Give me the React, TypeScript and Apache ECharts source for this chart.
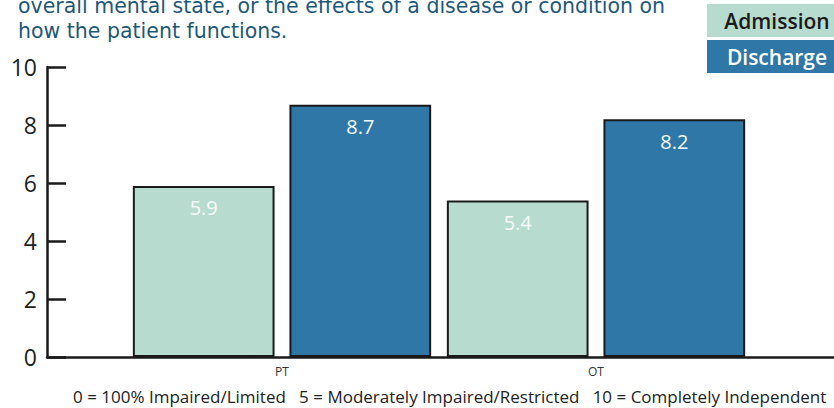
import React, { useEffect, useRef } from "react";
import * as echarts from "echarts";

const categories = ["PT", "OT"];
const seriesNames = ["Admission", "Discharge"];
const admission = [5.9, 5.4];
const discharge = [8.7, 8.2];
const yTicks = { min: 0, max: 10, interval: 2 };
const titleLines = [
  "overall mental state, or the effects of a disease or condition on",
  "how the patient functions.",
];
const footnote =
  "0 = 100% Impaired/Limited   5 = Moderately Impaired/Restricted   10 = Completely Independent";

const COLORS = ["#b7dccf", "#2f77a7"];
const FONT = "Open Sans";

export default function App() {
  const ref = useRef<HTMLDivElement>(null);
  useEffect(() => {
    if (!ref.current) return;
    const chart = echarts.init(ref.current, undefined, { renderer: "svg" });
    const axisColor = "#1a1a1a";
    chart.setOption({
      animation: false,
      textStyle: { fontFamily: FONT },
      grid: [
        { left: 47, right: 0, top: 67, bottom: 51 },
        { left: 125, right: 81, top: 67, bottom: 51 },
      ],
      xAxis: [
        {
          type: "value",
          gridIndex: 0,
          min: 0,
          max: 1,
          axisLine: { show: true, lineStyle: { color: axisColor, width: 2.5 } },
          axisTick: { show: false },
          axisLabel: { show: false },
          splitLine: { show: false },
        },
        {
          type: "category",
          gridIndex: 1,
          data: categories,
          axisLine: { show: false },
          axisTick: { show: false },
          axisLabel: { fontSize: 12, color: "#333", margin: 8, fontFamily: FONT },
        },
      ],
      yAxis: [
        {
          type: "value",
          gridIndex: 0,
          ...yTicks,
          axisLine: { show: true, lineStyle: { color: axisColor, width: 2.5 } },
          axisTick: { show: true, inside: true, length: 19, lineStyle: { color: axisColor, width: 2.5 } },
          axisLabel: { fontSize: 23, color: "#222", margin: 10, fontFamily: FONT },
          splitLine: { show: false },
        },
        {
          type: "value",
          gridIndex: 1,
          ...yTicks,
          show: false,
        },
      ],
      series: [admission, discharge].map((d, i) => ({
        name: seriesNames[i],
        type: "bar",
        xAxisIndex: 1,
        yAxisIndex: 1,
        data: d,
        barGap: "10.5%",
        barCategoryGap: "5%",
        itemStyle: { color: COLORS[i], borderColor: "#1a1a1a", borderWidth: 2 },
        label: {
          show: true,
          position: "insideTop",
          distance: 12,
          color: "#f5faf9",
          fontSize: 20,
          fontFamily: FONT,
        },
      })),
      graphic: [
        ...titleLines.map((t, i) => ({
          type: "text",
          left: 18,
          top: -6 + i * 25,
          style: {
            text: t,
            fontSize: 20.5,
            lineHeight: 24,
            fill: "#1e5878",
            fontFamily: "DejaVu Sans",
          },
        })),
        ...seriesNames.map((n, i) => ({
          type: "group",
          left: 707,
          top: 4 + i * 36,
          children: [
            {
              type: "rect",
              shape: { x: 0, y: 0, width: 135, height: 33 },
              style: { fill: COLORS[i] },
            },
            {
              type: "text",
              x: 70,
              y: 16.5,
              style: {
                text: n,
                fontSize: 21,
                fontWeight: 600,
                fill: i === 0 ? "#1a1a1a" : "#ffffff",
                align: "center",
                verticalAlign: "middle",
                fontFamily: FONT,
              },
            },
          ],
        })),
        {
          type: "text",
          left: 73,
          top: 388,
          style: {
            text: footnote,
            fontSize: 17,
            fill: "#222",
            fontFamily: FONT,
            whiteSpace: "pre",
          },
        },
      ],
    });
    return () => chart.dispose();
  }, []);
  return (
    <div
      ref={ref}
      style={{ position: "fixed", left: 0, top: 0, width: 834, height: 408, background: "#fff" }}
    />
  );
}
